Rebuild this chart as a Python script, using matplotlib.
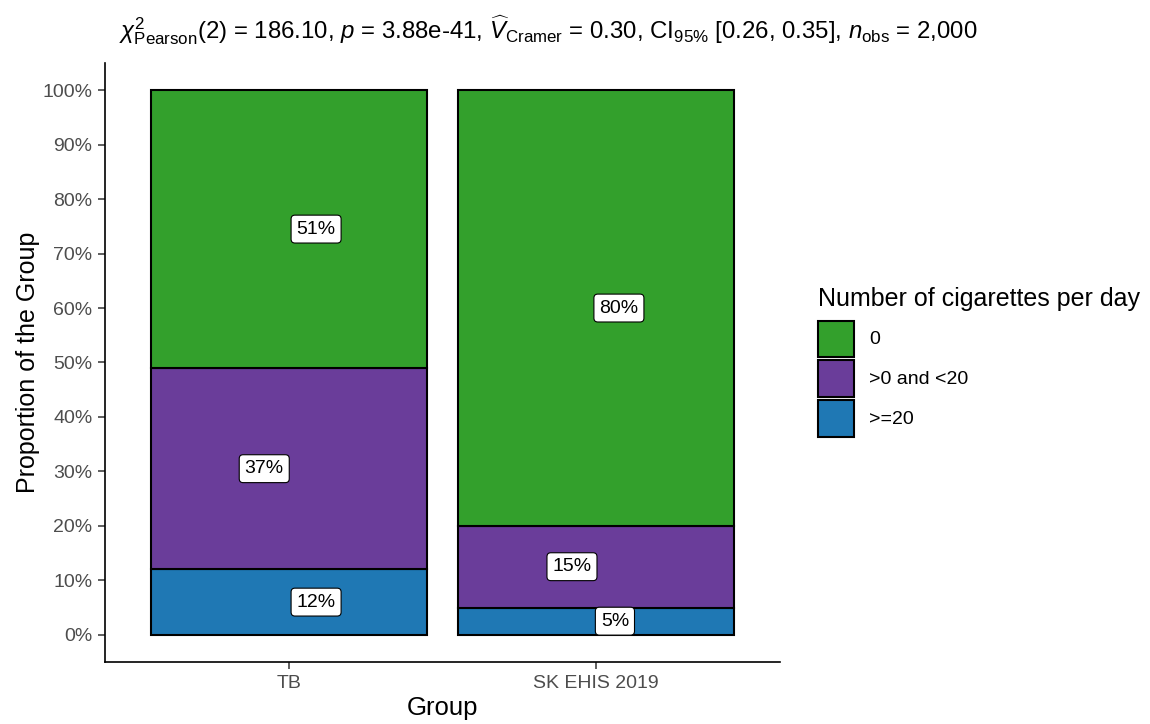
import matplotlib
matplotlib.use("Agg")
import matplotlib.pyplot as plt
from matplotlib.patches import Patch
import numpy as np

plt.rcParams['font.family'] = ['Liberation Sans', 'DejaVu Sans']
plt.rcParams['mathtext.fontset'] = 'custom'
plt.rcParams['mathtext.rm'] = 'Liberation Sans'
plt.rcParams['mathtext.it'] = 'Liberation Sans:italic'
plt.rcParams['mathtext.bf'] = 'Liberation Sans:bold'

# Data: share of each smoking level within each group (percent)
groups = ["TB", "SK EHIS 2019"]
levels = [">=20", ">0 and <20", "0"]          # bottom to top in the stack
values = {
    ">=20":       [12, 5],
    ">0 and <20": [37, 15],
    "0":          [51, 80],
}
legend_order = ["0", ">0 and <20", ">=20"]
colors = {"0": "#33A02C", ">0 and <20": "#6A3D9A", ">=20": "#1F78B4"}
yticks = np.arange(0, 101, 10)

# horizontal nudges for the percentage labels (x units)
label_nudge = {
    ">=20":       [0.088, 0.062],
    ">0 and <20": [-0.081, -0.078],
    "0":          [0.088, 0.075],
}

fig = plt.figure(figsize=(11.5, 7.24), dpi=100)
ax = fig.add_axes([105 / 1150, (724 - 662) / 724, (780 - 105) / 1150, (662 - 63) / 724])

x = np.arange(1, len(groups) + 1)
bottom = np.zeros(len(groups))
for lev in levels:
    v = np.array(values[lev], dtype=float) / 100
    ax.bar(x, v, width=0.9, bottom=bottom, color=colors[lev],
           edgecolor="black", linewidth=1.5, zorder=2)
    for i in range(len(groups)):
        ax.text(x[i] + label_nudge[lev][i], bottom[i] + v[i] / 2, f"{values[lev][i]}%",
                ha="center", va="center", fontsize=14, color="black", zorder=4,
                bbox=dict(boxstyle="round,pad=0.28,rounding_size=0.2", fc="white",
                          ec="black", lw=0.8))
    bottom += v

ax.set_xlim(0.4, 2.6)
ax.set_ylim(-0.05, 1.05)
ax.set_xticks(x)
ax.set_xticklabels(groups)
ax.set_yticks(yticks / 100)
ax.set_yticklabels([f"{t}%" for t in yticks])
for s in ["top", "right"]:
    ax.spines[s].set_visible(False)
for s in ["left", "bottom"]:
    ax.spines[s].set_linewidth(1.2)
    ax.spines[s].set_color("black")
ax.tick_params(axis="both", length=5, width=1.1, color="#333333",
               labelsize=14, labelcolor="#4D4D4D", pad=4)

ax.set_xlabel("Group", fontsize=18.5, labelpad=3)
ax.set_ylabel("Proportion of the Group", fontsize=18, labelpad=2)

title = (r"$\chi^2_{\mathrm{Pearson}}(2)$ = 186.10, $p$ = 3.88e-41, "
         r"$\widehat{V}_{\mathrm{Cramer}}$ = 0.30, CI$_{95\%}$ [0.26, 0.35], "
         r"$n_{\mathrm{obs}}$ = 2,000")
fig.text(548 / 1150, 1 - 30 / 724, title, ha="center", va="center", fontsize=17.3)

handles = [Patch(facecolor=colors[l], edgecolor="black", linewidth=1.5) for l in legend_order]
leg = fig.legend(handles, legend_order, title="Number of cigarettes per day",
                 loc="upper left", bbox_to_anchor=(810 / 1150, 1 - 279 / 724),
                 frameon=False, fontsize=14, title_fontsize=18,
                 handlelength=1.85, handleheight=2.48, labelspacing=0.2,
                 handletextpad=0.8, borderaxespad=0)
leg._legend_box.align = "left"
leg._legend_box.sep = 7

fig.savefig("out.png", dpi=100)
